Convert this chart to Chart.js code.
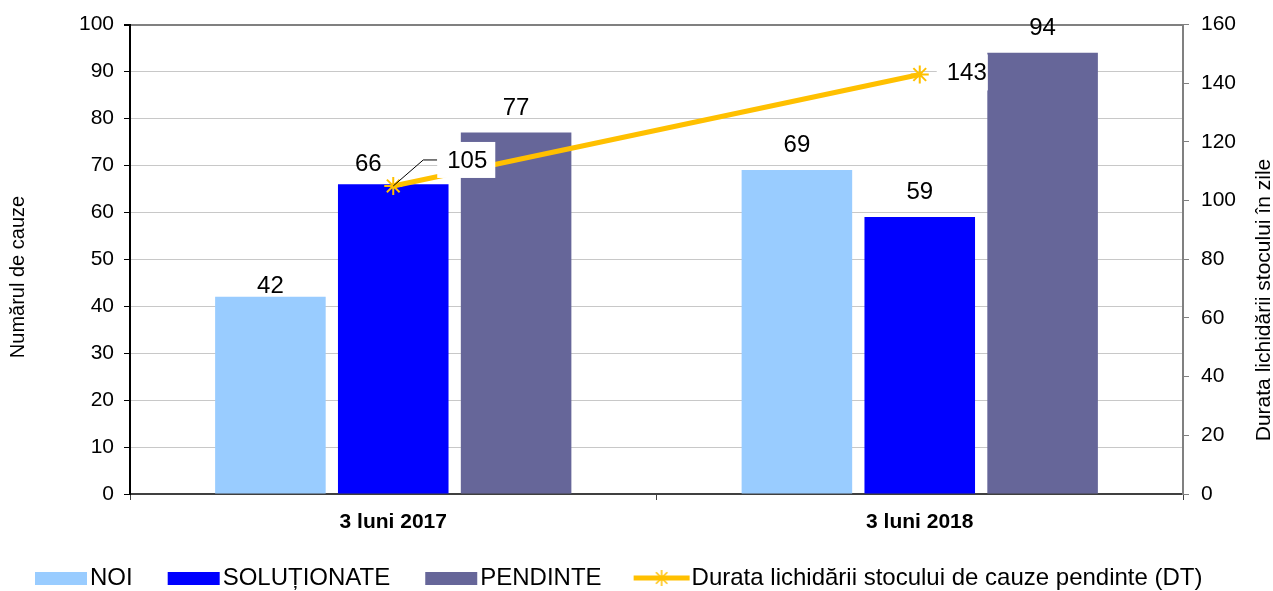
<!DOCTYPE html>
<html>
<head>
<meta charset="utf-8">
<script src="https://cdn.jsdelivr.net/npm/chart.js@4/dist/chart.umd.min.js"></script>
<style>
  html, body { margin: 0; padding: 0; background: #fff; }
  #wrap { width: 1273px; height: 591px; }
</style>
</head>
<body>
<div id="wrap"><canvas id="chart"></canvas></div>
<script>
// data
const categories = ["3 luni 2017", "3 luni 2018"];
const noi = [42, 69];
const solutionate = [66, 59];
const pendinte = [77, 94];
const durata = [105, 143];
const leftTicks = [0, 10, 20, 30, 40, 50, 60, 70, 80, 90, 100];
const rightTicks = [0, 20, 40, 60, 80, 100, 120, 140, 160];

const FONT = '"Liberation Sans", Arial, sans-serif';
Chart.defaults.font.family = FONT;
Chart.defaults.color = "#000";

const YELLOW = "#ffc000";

function drawStar(g, x, y, r) {
  g.beginPath();
  for (let a = 0; a < 4; a++) {
    const ang = a * Math.PI / 4;
    g.moveTo(x - r * Math.cos(ang), y - r * Math.sin(ang));
    g.lineTo(x + r * Math.cos(ang), y + r * Math.sin(ang));
  }
  g.stroke();
}

// legend swatches: wide canvas so the key sits close to its text
function swatch(color, isLine) {
  const c = document.createElement("canvas");
  c.width = 92;
  c.height = 24;
  const g = c.getContext("2d");
  if (isLine) {
    g.strokeStyle = color;
    g.lineWidth = 5;
    g.beginPath();
    g.moveTo(35, 12);
    g.lineTo(91, 12);
    g.stroke();
    g.lineWidth = 1.5;
    drawStar(g, 63, 12, 8);
  } else {
    g.fillStyle = color;
    g.fillRect(38, 6, 52, 13);
  }
  return c;
}

// value labels on bars and on the line
const valueLabels = {
  id: "valueLabels",
  afterDatasetsDraw(chart, args, opts) {
    const ctx = chart.ctx;
    ctx.save();
    ctx.font = "24px " + FONT;
    ctx.fillStyle = "#000";
    chart.data.datasets.forEach((ds, di) => {
      const meta = chart.getDatasetMeta(di);
      meta.data.forEach((el, i) => {
        const txt = String(ds.data[i]);
        if (ds.type === "line") {
          const o = opts.lineLabels[i];
          const cx = el.x + o.dx, cy = el.y + o.dy;
          const w = ctx.measureText(txt).width;
          const left = cx - w / 2 - o.padL;
          if (o.leader) {
            ctx.strokeStyle = "#000";
            ctx.lineWidth = 1;
            ctx.beginPath();
            ctx.moveTo(el.x, el.y);
            ctx.lineTo(el.x + 30, cy);
            ctx.lineTo(left, cy);
            ctx.stroke();
          }
          ctx.fillStyle = "#fff";
          ctx.fillRect(left, cy - 18, w + o.padL + o.padR, 36);
          ctx.fillStyle = "#000";
          ctx.textAlign = "center";
          ctx.textBaseline = "middle";
          ctx.fillText(txt, cx, cy + 1);
        } else {
          const s = (opts.barShift[di] || [])[i] || {};
          const gap = s.gap !== undefined ? s.gap : 18;
          ctx.textAlign = "center";
          ctx.textBaseline = "alphabetic";
          ctx.fillText(txt, el.x + (s.dx || 0), el.y - gap);
        }
      });
    });
    ctx.restore();
  }
};

// axis titles reading bottom-to-top on both sides
const axisTitles = {
  id: "axisTitles",
  afterLayout(chart) {
    // nudge the legend row down to where the original has it
    const lg = chart.legend;
    if (lg) { lg.top += 9; lg.bottom += 9; }
  },
  afterDraw(chart) {
    const ctx = chart.ctx;
    ctx.save();
    ctx.fillStyle = "#000";
    ctx.textAlign = "center";
    ctx.textBaseline = "middle";
    [["Numărul de cauze", 18, 277, 20], ["Durata lichidării stocului în zile", 1264, 300, 21]].forEach(([t, x, y, size]) => {
      ctx.save();
      ctx.font = size + "px " + FONT;
      ctx.translate(x, y);
      ctx.rotate(-Math.PI / 2);
      ctx.fillText(t, 0, 0);
      ctx.restore();
    });
    ctx.restore();
  }
};

const swatches = [swatch("#99ccff"), swatch("#0000ff"), swatch("#666699"), swatch(YELLOW, true)];

new Chart(document.getElementById("chart"), {
  type: "bar",
  data: {
    labels: categories,
    datasets: [
      { label: "NOI", data: noi, backgroundColor: "#99ccff", order: 1,
        categoryPercentage: 0.7, barPercentage: 0.9 },
      { label: "SOLUȚIONATE", data: solutionate, backgroundColor: "#0000ff", order: 1,
        categoryPercentage: 0.7, barPercentage: 0.9 },
      { label: "PENDINTE", data: pendinte, backgroundColor: "#666699", order: 1,
        categoryPercentage: 0.7, barPercentage: 0.9 },
      { type: "line", label: "Durata lichidării stocului de cauze pendinte (DT)", data: durata,
        yAxisID: "y1", order: 0, borderColor: YELLOW, borderWidth: 5,
        pointStyle: "star", pointRadius: 9, pointBorderColor: YELLOW, pointBorderWidth: 2,
        pointBackgroundColor: YELLOW, tension: 0 }
    ]
  },
  options: {
    responsive: true,
    maintainAspectRatio: false,
    animation: false,
    layout: { padding: { top: 24, bottom: 0, left: 0, right: 0 } },
    plugins: {
      tooltip: { enabled: false },
      legend: {
        position: "bottom",
        align: "start",
        labels: {
          usePointStyle: true,
          pointStyleWidth: 70,
          padding: 8,
          font: { size: 24 },
          generateLabels: (chart) => chart.data.datasets.map((ds, i) => ({
            text: ds.label, pointStyle: swatches[i], datasetIndex: i,
            fillStyle: "transparent", strokeStyle: "transparent", lineWidth: 0, hidden: false
          }))
        }
      },
      valueLabels: {
        barShift: { 0: [{ gap: 4 }], 1: [{ gap: 13, dx: -25 }] },
        lineLabels: [
          { dx: 74, dy: -26, padL: 10, padR: 8, leader: true },
          { dx: 47, dy: -2, padL: 10, padR: 1 }
        ]
      }
    },
    scales: {
      x: {
        offset: true,
        grid: { display: true, drawOnChartArea: false, offset: true, tickLength: 6, tickColor: "#404040" },
        border: { color: "#404040", width: 2 },
        ticks: { font: { size: 21, weight: "bold" }, padding: 10 },
        afterFit: (s) => { s.height = 55; }
      },
      y: {
        position: "left",
        min: leftTicks[0],
        max: leftTicks[leftTicks.length - 1],
        ticks: { stepSize: leftTicks[1] - leftTicks[0], font: { size: 21 }, padding: 10 },
        grid: {
          color: (c) => c.tick && c.tick.value === 100 ? "#808080" : "#c8c8c8",
          lineWidth: (c) => c.tick && c.tick.value === 100 ? 2 : 1,
          tickColor: "#000", tickLength: 6
        },
        border: { color: "#000", width: 2 },
        afterFit: (s) => { s.width = 130; }
      },
      y1: {
        position: "right",
        min: rightTicks[0],
        max: rightTicks[rightTicks.length - 1],
        ticks: { stepSize: rightTicks[1] - rightTicks[0], font: { size: 21 }, padding: 12 },
        grid: { drawOnChartArea: false, tickColor: "#808080", tickLength: 6 },
        border: { color: "#808080", width: 2 },
        afterFit: (s) => { s.width = 90; }
      }
    }
  },
  plugins: [valueLabels, axisTitles]
});
</script>
</body>
</html>
